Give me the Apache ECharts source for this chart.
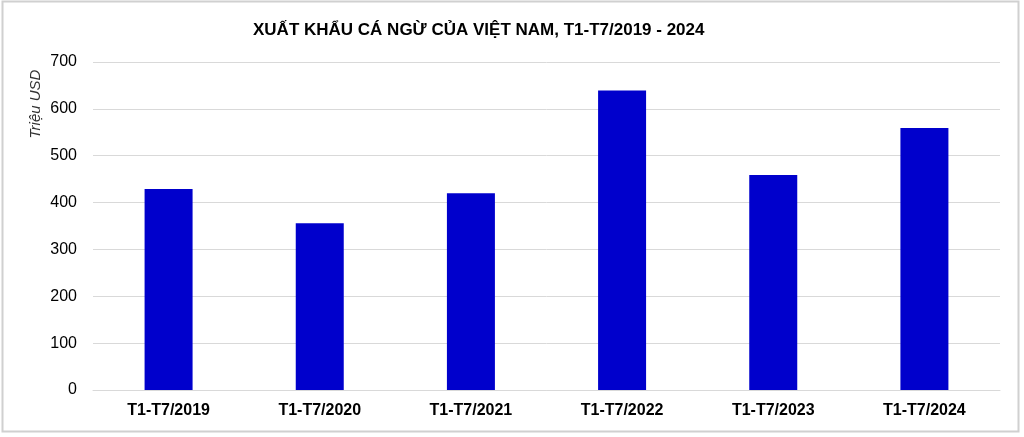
<!DOCTYPE html>
<html><head><meta charset="utf-8">
<script src="https://cdn.jsdelivr.net/npm/echarts@6/dist/echarts.min.js"></script>
<style>html,body{margin:0;padding:0;background:#fff}#c{width:1024px;height:437px}</style>
</head><body><div id="c"></div>
<script>
const categories = ['T1-T7/2019','T1-T7/2020','T1-T7/2021','T1-T7/2022','T1-T7/2023','T1-T7/2024'];
const values = [429, 356, 420, 639, 459, 559];
const yTicks = [0, 100, 200, 300, 400, 500, 600, 700];
const chart = echarts.init(document.getElementById('c'));
chart.setOption({
  animation: false,
  backgroundColor: '#fff',
  title: {
    text: 'XUẤT KHẨU CÁ NGỪ CỦA VIỆT NAM, T1-T7/2019 - 2024',
    left: 248, top: 17,
    textStyle: {fontFamily: 'Liberation Sans, Arial', fontWeight: 'bold', fontSize: 17, color: '#000'}
  },
  graphic: [
    {type: 'rect', shape: {x: 2.5, y: 1.5, width: 1016, height: 430}, style: {fill: 'none', stroke: '#d0d0d0', lineWidth: 2}},
    {type: 'text', x: 36, y: 104, rotation: Math.PI / 2,
     style: {text: 'Triệu USD', font: 'italic 15px "Liberation Sans", Arial', fill: '#333', align: 'center', verticalAlign: 'middle'}}
  ],
  grid: {left: 93, right: 24, top: 62, bottom: 47},
  xAxis: {
    type: 'category', data: categories,
    axisLine: {show: true, lineStyle: {color: '#d9d9d9', width: 1}},
    axisTick: {show: false},
    axisLabel: {fontFamily: 'Liberation Sans, Arial', fontWeight: 'bold', fontSize: 16, color: '#000', margin: 13}
  },
  yAxis: {
    type: 'value', min: yTicks[0], max: yTicks[yTicks.length-1], interval: 100,
    axisLine: {show: false}, axisTick: {show: false},
    splitLine: {lineStyle: {color: '#d9d9d9', width: 1}},
    axisLabel: {fontFamily: 'Liberation Sans, Arial', fontSize: 16, color: '#000', margin: 16}
  },
  series: [{type: 'bar', data: values, barWidth: 48, itemStyle: {color: '#0000CC'}}]
});
</script></body></html>
